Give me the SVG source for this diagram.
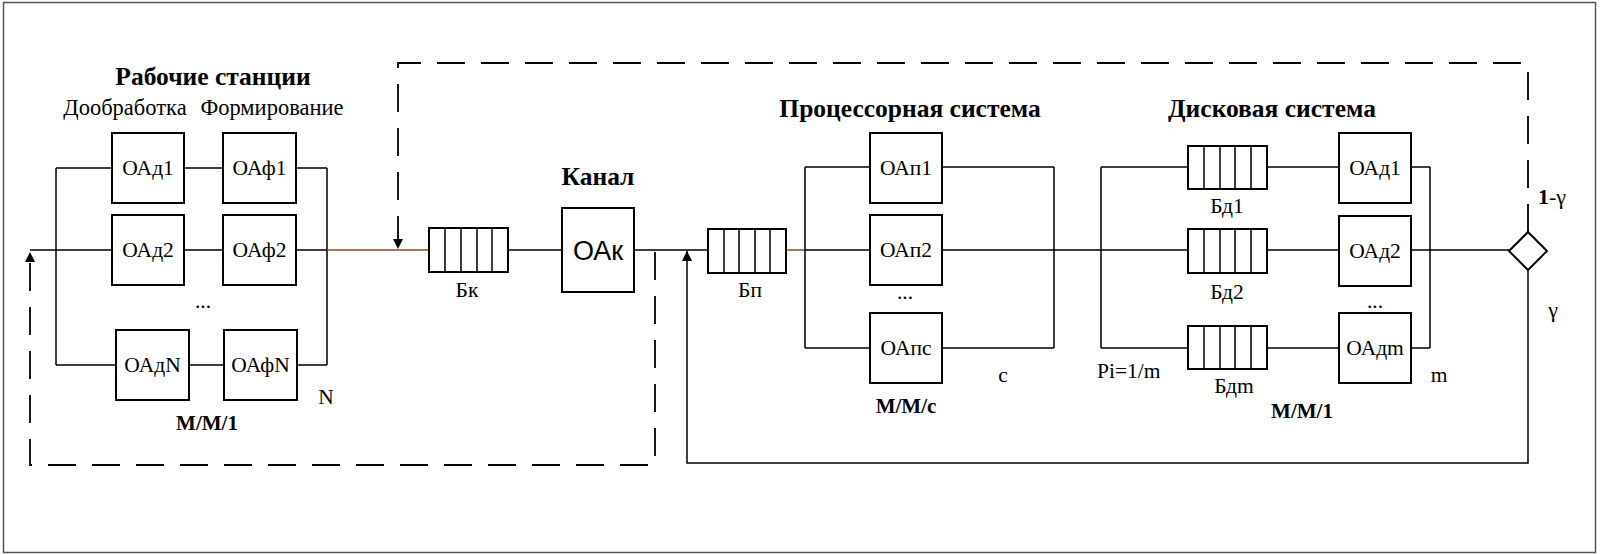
<svg xmlns="http://www.w3.org/2000/svg" width="1600" height="555" viewBox="0 0 1600 555">
<style>
.bg{fill:#fff}
.frame{fill:none;stroke:#555;stroke-width:1.5}
.box{fill:#fff;stroke:#000;stroke-width:2}
.q{fill:#fff;stroke:#000;stroke-width:2}
.ln{fill:none;stroke:#000;stroke-width:1.5}
.br{fill:none;stroke:#8B4A1C;stroke-width:1.5}
.dash{fill:none;stroke:#000;stroke-width:1.8;stroke-dasharray:28 16}
.t{font-family:"Liberation Serif","Times New Roman",serif;font-size:21.5px;fill:#000;text-anchor:middle}
.tl{font-family:"Liberation Serif","Times New Roman",serif;font-size:22.5px;fill:#000;text-anchor:middle}
.tb{font-family:"Liberation Serif","Times New Roman",serif;font-size:25.5px;font-weight:bold;fill:#000;text-anchor:middle}
.mm{font-family:"Liberation Serif","Times New Roman",serif;font-size:21px;font-weight:bold;fill:#000;text-anchor:middle}
.ts{font-family:"Liberation Sans",Arial,sans-serif;font-size:27px;fill:#000;text-anchor:middle}
</style>
<defs>
<marker id="arr" viewBox="0 0 10 10" refX="10" refY="5" markerWidth="10" markerHeight="10" markerUnits="userSpaceOnUse" orient="auto">
<path d="M0,0 L10,5 L0,10 Z" fill="#000"/>
</marker>
</defs>
<rect class="bg" x="0" y="0" width="1600" height="555"/>
<rect class="frame" x="3.5" y="2.5" width="1592" height="550"/>

<g id="connectors">
<!-- workstations -->
<path class="ln" d="M56,168 V365 M327,168 V365"/>
<path class="ln" d="M56,168 H112 M184,168 H223 M296,168 H327"/>
<path class="ln" d="M30,250 H112 M184,250 H223 M296,250 H327"/>
<path class="ln" d="M56,365 H116 M189,365 H224 M297,365 H327"/>
<path class="br" d="M327,250 H429"/>
<!-- channel -->
<path class="ln" d="M508,250 H562 M634,250 H708"/>
<path class="br" d="M786,250 H805"/>
<!-- processors -->
<path class="ln" d="M805,167 V348 M1054,167 V348"/>
<path class="ln" d="M805,167 H870 M942,167 H1054 M805,250 H870 M942,250 H1101 M805,348 H870 M942,348 H1054"/>
<!-- disks -->
<path class="ln" d="M1101,167 V348 M1430,167 V348"/>
<path class="ln" d="M1101,167 H1188 M1267,167 H1339 M1411,167 H1430"/>
<path class="ln" d="M1101,250 H1188 M1267,250 H1339 M1411,250 H1511"/>
<path class="ln" d="M1101,348 H1188 M1267,348 H1339 M1411,348 H1430"/>
<!-- feedback gamma -->
<path class="ln" d="M1528,270 V463 H687 V251" marker-end="url(#arr)"/>
<!-- feedback 1-gamma -->
<path class="dash" d="M1528,232 V63 H398 V249" marker-end="url(#arr)"/>
<!-- channel return -->
<path class="dash" d="M655,252 V465 H30 V252" marker-end="url(#arr)"/>
</g>

<g id="labels">
<text class="tb" x="213" y="85">Рабочие станции</text>
<text class="tl" x="125" y="115">Дообработка</text>
<text class="tl" x="272" y="115">Формирование</text>
<text class="t" x="203" y="308">...</text>
<text class="t" x="326" y="404">N</text>
<text class="mm" x="207" y="430">M/M/1</text>
<text class="tb" x="598" y="185">Канал</text>
<text class="tb" x="910" y="117">Процессорная система</text>
<text class="t" x="905" y="299">...</text>
<text class="t" x="1003" y="382">c</text>
<text class="mm" x="906" y="413">M/M/c</text>
<text class="t" x="1097" y="378" style="text-anchor:start">Pi=1/m</text>
<text class="tb" x="1272" y="117">Дисковая система</text>
<text class="t" x="1375" y="308">...</text>
<text class="t" x="1439" y="382">m</text>
<text class="mm" x="1302" y="418">M/M/1</text>
<text class="t" x="1538" y="204" style="text-anchor:start;font-size:22px"><tspan font-weight="bold">1</tspan>-γ</text>
<text class="t" x="1553" y="317" style="font-size:22px">γ</text>
</g>

<g id="ws-d1"><rect class="box" x="112" y="133" width="72" height="70"/><text class="t" x="148" y="175">ОАд1</text></g>
<g id="ws-f1"><rect class="box" x="223" y="133" width="73" height="70"/><text class="t" x="259.5" y="175">ОАф1</text></g>
<g id="ws-d2"><rect class="box" x="112" y="215" width="72" height="70"/><text class="t" x="148" y="257">ОАд2</text></g>
<g id="ws-f2"><rect class="box" x="223" y="215" width="73" height="70"/><text class="t" x="259.5" y="257">ОАф2</text></g>
<g id="ws-dN"><rect class="box" x="116" y="330" width="73" height="70"/><text class="t" x="152.5" y="372">ОАдN</text></g>
<g id="ws-fN"><rect class="box" x="224" y="330" width="73" height="70"/><text class="t" x="260.5" y="372">ОАфN</text></g>

<g id="buf-k"><rect class="q" x="429" y="228" width="79" height="44"/><path class="ln" d="M445,228 V272 M461,228 V272 M477,228 V272 M492,228 V272"/><text class="t" x="467" y="297">Бк</text></g>
<g id="oa-k"><rect class="box" x="562" y="208" width="72" height="84"/><text class="ts" x="598" y="260">ОАк</text></g>
<g id="buf-p"><rect class="q" x="708" y="229" width="78" height="44"/><path class="ln" d="M724,229 V273 M739,229 V273 M755,229 V273 M770,229 V273"/><text class="t" x="750" y="297">Бп</text></g>

<g id="oa-p1"><rect class="box" x="870" y="133" width="72" height="70"/><text class="t" x="906" y="175">ОАп1</text></g>
<g id="oa-p2"><rect class="box" x="870" y="215" width="72" height="70"/><text class="t" x="906" y="257">ОАп2</text></g>
<g id="oa-pc"><rect class="box" x="870" y="313" width="72" height="70"/><text class="t" x="906" y="355">ОАпс</text></g>

<g id="buf-d1"><rect class="q" x="1188" y="146" width="79" height="43"/><path class="ln" d="M1204,146 V189 M1220,146 V189 M1235,146 V189 M1251,146 V189"/><text class="t" x="1227" y="213">Бд1</text></g>
<g id="buf-d2"><rect class="q" x="1188" y="229" width="79" height="44"/><path class="ln" d="M1204,229 V273 M1220,229 V273 M1235,229 V273 M1251,229 V273"/><text class="t" x="1227" y="299">Бд2</text></g>
<g id="buf-dm"><rect class="q" x="1188" y="326" width="79" height="43"/><path class="ln" d="M1204,326 V369 M1220,326 V369 M1235,326 V369 M1251,326 V369"/><text class="t" x="1234" y="393">Бдm</text></g>

<g id="oa-d1"><rect class="box" x="1339" y="133" width="72" height="70"/><text class="t" x="1375" y="175">ОАд1</text></g>
<g id="oa-d2"><rect class="box" x="1339" y="216" width="72" height="70"/><text class="t" x="1375" y="258">ОАд2</text></g>
<g id="oa-dm"><rect class="box" x="1339" y="313" width="72" height="70"/><text class="t" x="1375" y="355">ОАдm</text></g>

<g id="branch"><polygon class="box" points="1528,232 1547,251 1528,270 1509,251"/></g>
</svg>
